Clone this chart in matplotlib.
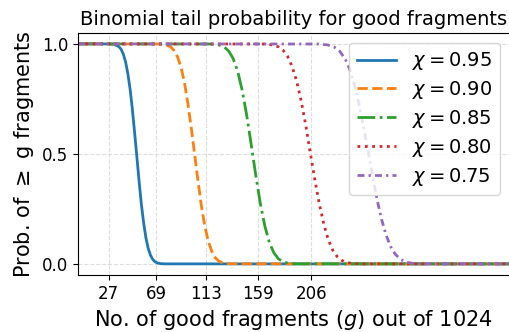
import matplotlib
matplotlib.use("Agg")
import matplotlib.pyplot as plt

# values (tail probability P(X >= g))
g_095 = [0, 28, 32, 36, 38, 40, 42, 44, 46, 48, 50, 52, 54, 56, 58, 60, 62, 64, 66, 68, 70, 73, 77, 381]
p_095 = [1.0, 0.9997, 0.9977, 0.9878, 0.9756, 0.9535, 0.9177, 0.8643, 0.7939, 0.7019, 0.5948, 0.4840,
         0.3707, 0.2676, 0.1841, 0.1170, 0.0694, 0.0392, 0.0202, 0.0096, 0.0043, 0.0011, 0.0001, 0.0]

g_090 = [0, 72, 78, 82, 85, 88, 91, 94, 97, 100, 103, 106, 109, 112, 115, 118, 121, 124, 127, 131, 136, 381]
p_090 = [1.0, 0.9994, 0.9952, 0.9854, 0.9686, 0.9394, 0.8925, 0.8238, 0.7291, 0.6179, 0.4960, 0.3745,
         0.2611, 0.1711, 0.1038, 0.0582, 0.0294, 0.0139, 0.0060, 0.0017, 0.0003, 0.0]

g_085 = [0, 117, 124, 129, 133, 137, 141, 145, 149, 153, 157, 161, 165, 169, 173, 177, 181, 186, 192, 381]
p_085 = [1.0, 0.9994, 0.9957, 0.9861, 0.9678, 0.9332, 0.8749, 0.7881, 0.6736, 0.5398, 0.4013, 0.2743,
         0.1711, 0.0968, 0.0495, 0.0228, 0.0094, 0.0026, 0.0005, 0.0]

g_080 = [0, 164, 172, 177, 181, 185, 189, 193, 197, 201, 205, 209, 213, 217, 221, 225, 229, 233, 238, 244, 252, 381]
p_080 = [1.0, 0.9994, 0.9953, 0.9864, 0.9713, 0.9441, 0.8980, 0.8315, 0.7422, 0.6331, 0.5080, 0.3859,
         0.2743, 0.1814, 0.1093, 0.0618, 0.0322, 0.0154, 0.0054, 0.0013, 0.0001, 0.0]

g_075 = [0, 212, 220, 226, 231, 236, 240, 244, 248, 252, 256, 260, 264, 268, 272, 276, 280, 285, 290, 296, 304, 381]
p_075 = [1.0, 0.9993, 0.9957, 0.9861, 0.9671, 0.9306, 0.8830, 0.8159, 0.7291, 0.6255, 0.5160, 0.4013,
         0.2946, 0.2033, 0.1314, 0.0793, 0.0446, 0.0197, 0.0078, 0.0022, 0.0003, 0.0]

labels = [r"$\chi = 0.95$", r"$\chi = 0.90$", r"$\chi = 0.85$", r"$\chi = 0.80$", r"$\chi = 0.75$"]
xticks = [27, 69, 113, 159, 206]

fig = plt.figure(figsize=(5.1, 3.32), dpi=100)
ax = fig.add_axes([0.153, 0.172, 0.846, 0.729])

lw = 2
ax.plot(g_095, p_095, color="#1f77b4", lw=lw, ls="-", label=labels[0])
ax.plot(g_090, p_090, color="#ff7f0e", lw=lw, ls="--", label=labels[1])
ax.plot(g_085, p_085, color="#2ca02c", lw=lw, ls="-.", label=labels[2])
ax.plot(g_080, p_080, color="#d62728", lw=lw, ls=":", label=labels[3])
ax.plot(g_075, p_075, color="#9467bd", lw=lw, ls=(0, (2.5, 1.5, 0.8, 1.5)), label=labels[4])

ax.set_xlim(0, 381)
ax.set_ylim(-0.05, 1.05)
ax.set_xticks(xticks)
ax.set_yticks([0.0, 0.5, 1.0])
ax.tick_params(labelsize=12)
ax.grid(True, ls="--", color="#dddddd", lw=0.8)
ax.spines["right"].set_visible(False)

ax.set_title("Binomial tail probability for good fragments", fontsize=14)
ax.set_xlabel("No. of good fragments ($g$) out of 1024", fontsize=15)
ax.set_ylabel("Prob. of $\\geq$ g fragments", fontsize=15)
ax.legend(loc="upper right", fontsize=14, labelspacing=0.35)

fig.savefig("out.png", dpi=100)
